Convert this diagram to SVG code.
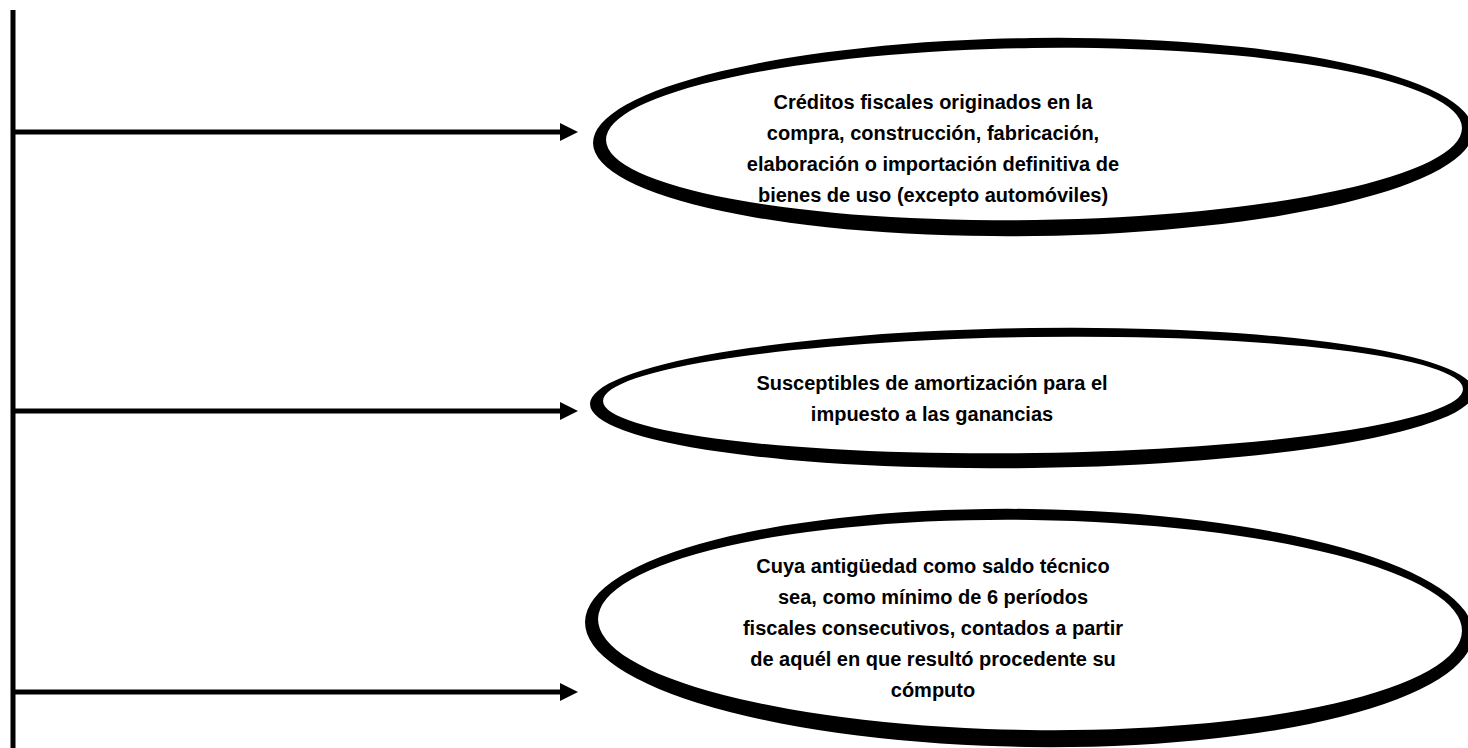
<svg xmlns="http://www.w3.org/2000/svg" width="1468" height="748" viewBox="0 0 1468 748">
<defs>
<style>
.ln{stroke:#000;stroke-width:5;fill:none}
.ah{fill:#000}
.rim{fill:#000}
.face{fill:#fff}
.t{font-family:"Liberation Sans",Arial,sans-serif;font-weight:bold;font-size:20px;fill:#000;text-anchor:middle}
</style>
</defs>
<rect width="1468" height="748" fill="#fff"/>
<g id="connectors">
<line class="ln" x1="13" y1="10" x2="13" y2="748"/>
<line class="ln" x1="11" y1="132" x2="562" y2="132"/>
<polygon class="ah" points="560,123 578,132 560,141"/>
<line class="ln" x1="11" y1="411" x2="562" y2="411"/>
<polygon class="ah" points="560,402 578,411 560,420"/>
<line class="ln" x1="11" y1="692" x2="562" y2="692"/>
<polygon class="ah" points="560,683 578,692 560,701"/>
</g>
<g id="node1">
<ellipse class="rim" cx="1033" cy="137" rx="440" ry="99" transform="rotate(-0.8 1033 137)"/>
<ellipse class="face" cx="1034" cy="134" rx="428" ry="86" transform="rotate(-0.8 1034 134)"/>
<text class="t" x="933" y="109">Créditos fiscales originados en la</text>
<text class="t" x="933" y="140">compra, construcción, fabricación,</text>
<text class="t" x="933" y="171">elaboración o importación definitiva de</text>
<text class="t" x="933" y="202">bienes de uso (excepto automóviles)</text>
</g>
<g id="node2">
<ellipse class="rim" cx="1032" cy="398" rx="442" ry="70" transform="rotate(-0.8 1032 398)"/>
<ellipse class="face" cx="1033" cy="395" rx="430" ry="58" transform="rotate(-0.8 1033 395)"/>
<text class="t" x="932" y="390">Susceptibles de amortización para el</text>
<text class="t" x="932" y="421">impuesto a las ganancias</text>
</g>
<g id="node3">
<ellipse class="rim" cx="1029" cy="628" rx="444" ry="119" transform="rotate(0.8 1029 628)"/>
<ellipse class="face" cx="1030" cy="625" rx="432" ry="105" transform="rotate(0.8 1030 625)"/>
<text class="t" x="933" y="573">Cuya antigüedad como saldo técnico</text>
<text class="t" x="933" y="604">sea, como mínimo de 6 períodos</text>
<text class="t" x="933" y="635">fiscales consecutivos, contados a partir</text>
<text class="t" x="933" y="666">de aquél en que resultó procedente su</text>
<text class="t" x="933" y="697">cómputo</text>
</g>
</svg>
